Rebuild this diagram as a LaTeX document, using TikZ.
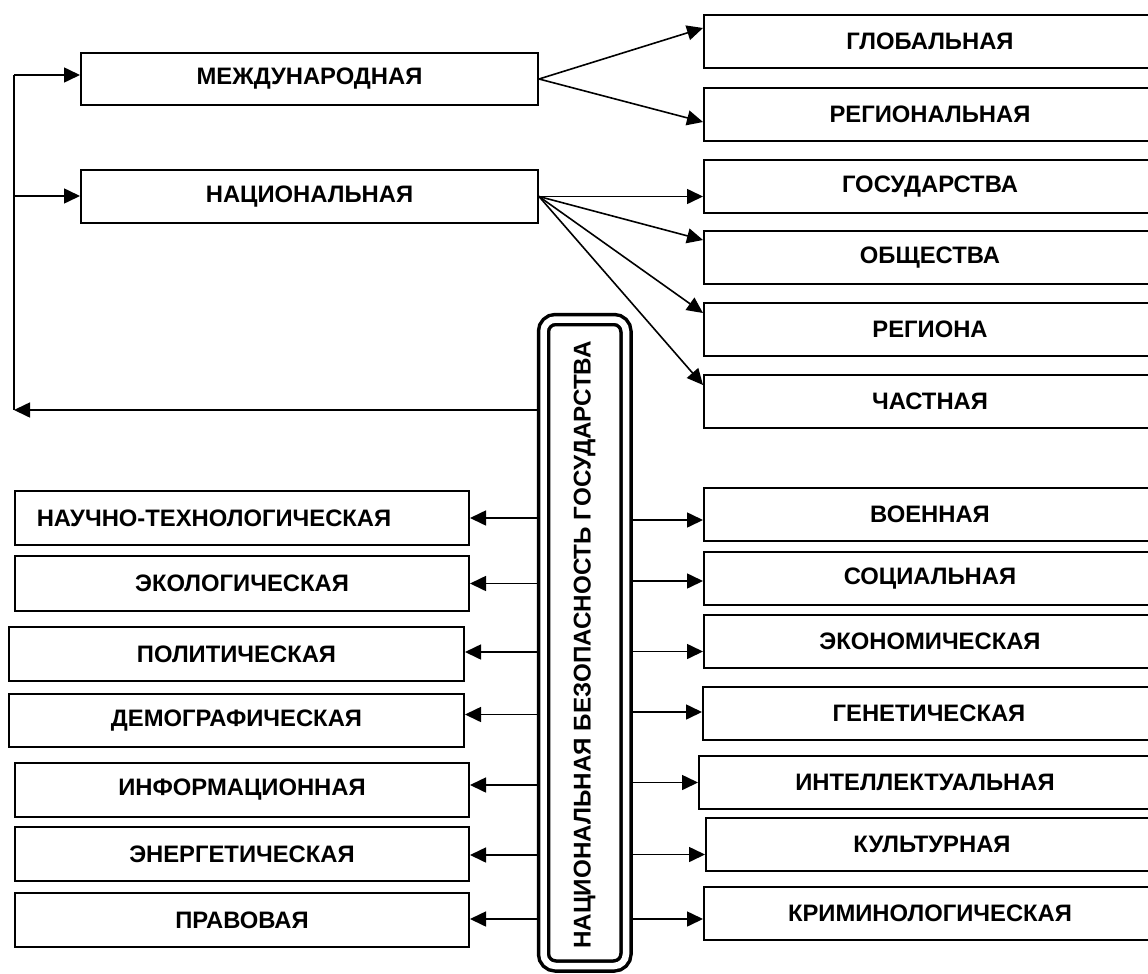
\documentclass[tikz,border=0pt]{standalone}
\usepackage{fontspec}
\setmainfont{Liberation Sans}
\usetikzlibrary{arrows.meta,calc,backgrounds}

\begin{document}
\begin{tikzpicture}[x=1pt,y=-1pt,
  lbl/.style={font=\bfseries\fontsize{23.8}{26}\selectfont},
  box/.style={lbl,draw,line width=2pt,anchor=north west,inner sep=0pt,minimum height=53pt},
  lbox/.style={box,minimum width=454pt,minimum height=54pt},
  rbox/.style={box,minimum width=452pt},
  link/.style={line width=1.6pt},
  arr/.style={link,-{Triangle[length=16pt,width=15pt]}},
  corebox/.style={draw,double,double distance=6.5pt,line width=3.5pt,rounded corners=12pt,
                  inner sep=0pt,minimum width=82.5pt,minimum height=646.5pt}
]
\useasboundingbox (0,0) rectangle (1148,974);

% levels
\node[box,minimum width=457pt,minimum height=52pt] (intl) at (80,52) {МЕЖДУНАРОДНАЯ};
\node[box,minimum width=457pt] (nat) at (80,169) {НАЦИОНАЛЬНАЯ};

\node[rbox] (glob)  at (703,14)  {ГЛОБАЛЬНАЯ};
\node[rbox] (regl)  at (703,87)  {РЕГИОНАЛЬНАЯ};
\node[rbox] (gos)   at (703,159) {ГОСУДАРСТВА};
\node[rbox] (obsh)  at (703,230) {ОБЩЕСТВА};
\node[rbox] (regn)  at (703,302) {РЕГИОНА};
\node[rbox] (chast) at (703,374) {ЧАСТНАЯ};

% central block
\node[corebox] (core) at (584.75,642.75) {};
\node[lbl,rotate=90,font=\bfseries\fontsize{24.2}{26}\selectfont] (coretext) at (584.5,645)
  {НАЦИОНАЛЬНАЯ БЕЗОПАСНОСТЬ ГОСУДАРСТВА};

% spheres, left column
\node[lbox] (nauch) at (14,490) {НАУЧНО-ТЕХНОЛОГИЧЕСКАЯ\hspace*{56pt}};
\node[lbox,minimum height=55pt] (eko) at (14,555) {ЭКОЛОГИЧЕСКАЯ};
\node[lbox,minimum width=455pt] (pol) at (8,626) {ПОЛИТИЧЕСКАЯ};
\node[lbox,minimum width=455pt,minimum height=53pt] (dem) at (8,693) {ДЕМОГРАФИЧЕСКАЯ};
\node[lbox] (inf)   at (14,762) {ИНФОРМАЦИОННАЯ};
\node[lbox] (energ) at (14,826) {ЭНЕРГЕТИЧЕСКАЯ};
\node[lbox] (prav)  at (14,892) {ПРАВОВАЯ};

% spheres, right column
\node[rbox] (voen)  at (703,487) {ВОЕННАЯ};
\node[rbox] (soc)   at (703,551) {СОЦИАЛЬНАЯ};
\node[rbox] (econ)  at (703,614) {ЭКОНОМИЧЕСКАЯ};
\node[rbox] (gen)   at (702,686) {ГЕНЕТИЧЕСКАЯ};
\node[rbox] (intel) at (698,755) {ИНТЕЛЛЕКТУАЛЬНАЯ};
\node[rbox] (kult)  at (705,817) {КУЛЬТУРНАЯ};
\node[rbox] (krim)  at (703,886) {КРИМИНОЛОГИЧЕСКАЯ};

\coordinate (kTop) at (14,75);
\coordinate (kMid) at (14,196);
\coordinate (kBot) at (14,410);

\begin{scope}[on background layer]
  % feedback loop on the left
  \draw[link] (kTop) -- (kBot);
  \draw[arr] (kTop) -- (intl.west |- kTop);
  \draw[arr] (kMid) -- (nat.west |- kMid);
  \draw[arr] (core.west |- kBot) -- (kBot);

  % international level
  \draw[arr] (intl.east) -- ($(glob.north west)+(0,14)$);
  \draw[arr] (intl.east) -- ($(regl.north west)+(0,35)$);

  % national level
  \draw[arr] (nat.east) -- (gos.west |- nat.east);
  \draw[arr] (nat.east) -- ($(obsh.north west)+(0,10)$);
  \draw[arr] (nat.east) -- ($(regn.north west)+(0,11)$);
  \draw[arr] (nat.east) -- ($(chast.north west)+(0,11)$);

  % branches to the left
  \foreach \n/\d in {nauch/0,eko/0,pol/-2,dem/-6,inf/-5,energ/1,prav/-1}{
    \path ($(\n.east)+(0,\d)$) coordinate (tipL);
    \draw[arr] (core.west |- tipL) -- (tipL);
  }
  % branches to the right
  \foreach \n/\d in {voen/5.5,soc/2.5,econ/10,gen/-1.5,intel/0,kult/10,krim/5.5}{
    \path ($(\n.west)+(0,\d)$) coordinate (tipR);
    \draw[arr] (core.east |- tipR) -- (tipR);
  }
\end{scope}
\end{tikzpicture}
\end{document}
